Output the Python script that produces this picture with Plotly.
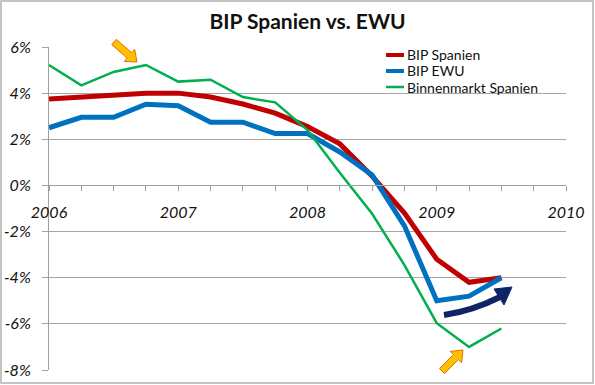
import plotly.graph_objects as go
import numpy as np

# ---------------- data ----------------
quarters = [2006.0, 2006.25, 2006.5, 2006.75, 2007.0, 2007.25, 2007.5, 2007.75,
            2008.0, 2008.25, 2008.5, 2008.75, 2009.0, 2009.25, 2009.5]
bip_spanien = [3.75, 3.85, 3.95, 4.0, 4.0, 3.83, 3.53, 3.13, 2.55, 1.8, 0.4, -1.2, -3.2, -4.2, -4.0]
bip_ewu = [2.5, 2.95, 2.95, 3.52, 3.45, 2.74, 2.74, 2.25, 2.25, 1.45, 0.45, -1.75, -5.0, -4.8, -4.0]
binnenmarkt = [5.22, 4.34, 4.92, 5.22, 4.5, 4.58, 3.83, 3.6, 2.4, 0.55, -1.23, -3.45, -5.97, -7.0, -6.2]

series_names = ["BIP Spanien", "BIP EWU", "Binnenmarkt Spanien"]
year_ticks = [2006, 2007, 2008, 2009, 2010]
year_labels = ["2006", "2007", "2008", "2009", "2010"]
pct_ticks = [-8, -6, -4, -2, 0, 2, 4, 6]
pct_labels = ["-8%", "-6%", "-4%", "-2%", "0%", "2%", "4%", "6%"]

# ---------------- layout geometry ----------------
W, H = 595, 385
ML, MR, MT, MB = 49, 29, 47, 15
PW, PH = W - ML - MR, H - MT - MB

def px(xp, yp):
    """pixel -> paper coordinates"""
    return (xp - ML) / PW, (H - MB - yp) / PH

def block_arrow(tail, tip, shaft_hw, head_hw, head_len):
    t = np.array(tail, float); p = np.array(tip, float)
    u = (p - t) / np.linalg.norm(p - t)
    n = np.array([-u[1], u[0]])
    b = p - u * head_len
    pts = [t + n * shaft_hw, b + n * shaft_hw, b + n * head_hw, p,
           b - n * head_hw, b - n * shaft_hw, t - n * shaft_hw]
    pp = [px(*q) for q in pts]
    return "M " + " L ".join(f"{a:.5f},{c:.5f}" for a, c in pp) + " Z"

FONT = "Lato"
fig = go.Figure()
colors = ["#C00000", "#0070C0", "#00B050"]
widths = [5, 5, 2.5]
for name, vals, c, w in zip(series_names, [bip_spanien, bip_ewu, binnenmarkt], colors, widths):
    fig.add_trace(go.Scatter(x=quarters, y=vals, mode="lines", name=name,
                             line=dict(color=c, width=w), cliponaxis=False, showlegend=False))

shapes = []
annotations = []
# outer frame
x0, y0 = px(1, 1); x1, y1 = px(593, 383)
shapes.append(dict(type="rect", xref="paper", yref="paper", x0=x0, y0=y1, x1=x1, y1=y0,
                   line=dict(color="#B0B0B0", width=1.5), fillcolor="rgba(0,0,0,0)", layer="below"))
# manual legend
for i, (name, c, w) in enumerate(zip(series_names, colors, widths)):
    yrow = 55 + i * 16
    a0 = px(386, yrow); a1 = px(404, yrow)
    shapes.append(dict(type="line", xref="paper", yref="paper", x0=a0[0], y0=a0[1], x1=a1[0], y1=a1[1],
                       line=dict(color=c, width=4 if w > 3 else 2.5)))
    tp = px(405, yrow)
    annotations.append(dict(text=name, xref="paper", yref="paper", x=tp[0], y=tp[1],
                            xanchor="left", yanchor="middle", showarrow=False,
                            font=dict(size=14, family=FONT, color="#111")))
# orange arrows
shapes.append(dict(type="path", xref="paper", yref="paper",
                   path=block_arrow((114, 42), (137, 62), 3.5, 8, 10),
                   fillcolor="#FFC000", line=dict(color="#E46C0A", width=1)))
shapes.append(dict(type="path", xref="paper", yref="paper",
                   path=block_arrow((442, 371), (463, 350), 3.5, 8, 10),
                   fillcolor="#FFC000", line=dict(color="#E46C0A", width=1)))
# navy curved arrow
a = px(444, 315); c = px(472, 311); b = px(500, 297)
shapes.append(dict(type="path", xref="paper", yref="paper",
                   path=f"M {a[0]:.5f},{a[1]:.5f} Q {c[0]:.5f},{c[1]:.5f} {b[0]:.5f},{b[1]:.5f}",
                   line=dict(color="#0F2466", width=6)))
t1 = px(512, 287); t2 = px(494, 289); t3 = px(504, 305)
shapes.append(dict(type="path", xref="paper", yref="paper",
                   path=f"M {t1[0]:.5f},{t1[1]:.5f} L {t2[0]:.5f},{t2[1]:.5f} L {t3[0]:.5f},{t3[1]:.5f} Z",
                   fillcolor="#0F2466", line=dict(color="#0F2466", width=1)))

fig.update_layout(
    width=W, height=H,
    margin=dict(l=ML, r=MR, t=MT, b=MB, autoexpand=False),
    paper_bgcolor="white", plot_bgcolor="white",
    font=dict(family=FONT, color="#1a1a1a"),
    title=dict(text="<b>BIP Spanien vs. EWU</b>", x=0.5, xref="paper", xanchor="center",
               y=1 - 22 / H, yanchor="middle", font=dict(size=21, family=FONT, color="#111")),
    showlegend=False,
    shapes=shapes,
    annotations=annotations,
)
fig.update_xaxes(range=[2006, 2010], tickvals=year_ticks, ticktext=year_labels,
                 anchor="free", position=8 / 14, showgrid=False, zeroline=False, automargin=False,
                 showline=True, linecolor="#A0A0A0", linewidth=1,
                 ticks="outside", ticklen=5, tickcolor="#A0A0A0",
                 minor=dict(dtick=0.25, tick0=2006, ticks="outside", ticklen=5, tickcolor="#A0A0A0", showgrid=False),
                 ticklabelstandoff=7,
                 tickfont=dict(size=16, family=FONT, style="italic", color="#111"))
fig.update_yaxes(range=[-8, 6], tickvals=pct_ticks, ticktext=pct_labels, automargin=False,
                 showgrid=True, gridcolor="#A6A6A6", gridwidth=1, zeroline=False,
                 showline=True, linecolor="#A0A0A0", linewidth=1,
                 ticks="outside", ticklen=6, tickcolor="#A0A0A0",
                 ticklabelstandoff=8,
                 tickfont=dict(size=16, family=FONT, style="italic", color="#111"))

fig.write_html("out.html", config={"displayModeBar": False},
               post_script="document.body.style.margin='0px';document.body.style.overflow='hidden';")
